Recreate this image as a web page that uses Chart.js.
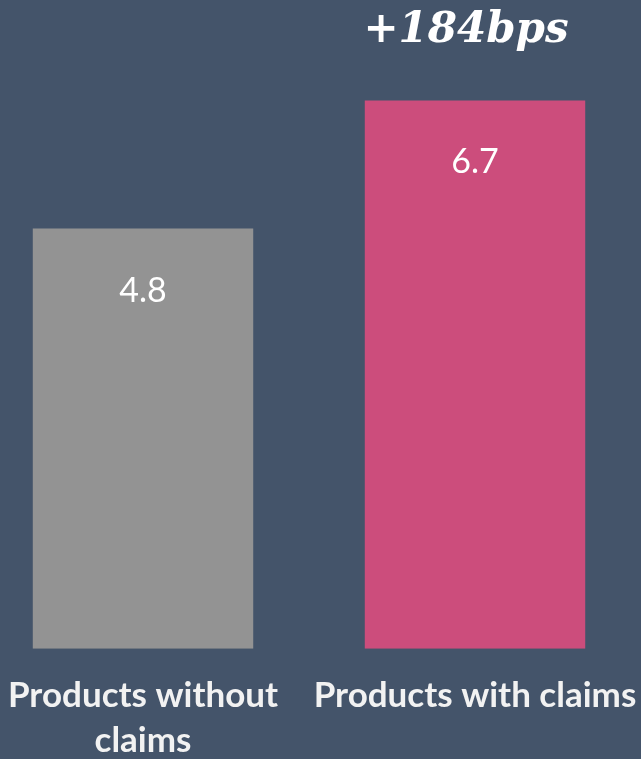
<!DOCTYPE html>
<html lang="en">

<head>
    <meta charset="UTF-8">
    <title>Claims chart</title>
    <script src="https://cdn.jsdelivr.net/npm/chart.js"></script>
    <style>
        html, body { margin: 0; padding: 0; background: #44546A; overflow: hidden; }
        #box { width: 641px; height: 759px; overflow: hidden; }
        /* o canvas sai um pouco pela esquerda e por baixo, como no original */
        #grafico { display: block; margin-left: -23px; }
    </style>
</head>

<body>
    <div id="box">
        <canvas id="grafico" width="664" height="787"></canvas>
    </div>

    <script>
        // categorias (eixo x)
        const categorias = [['Products without', 'claims'], 'Products with claims'];
        // valores das barras
        const valores = [4.8, 6.7];
        const textosValores = ['4.8', '6.7'];
        const cores = ['#939393', '#CC4D7C'];
        // anotacao em cima da barra rosa
        const anotacao = '+184bps';

        const escritaValores = {
            id: 'escritaValores',
            afterDatasetsDraw(chart) {
                const ctx = chart.ctx;
                const meta = chart.getDatasetMeta(0);
                ctx.save();
                ctx.fillStyle = '#FFFFFF';
                ctx.textAlign = 'center';
                ctx.textBaseline = 'middle';
                ctx.font = '34px Lato';
                meta.data.forEach(function (barra, i) {
                    ctx.fillText(textosValores[i], barra.x, barra.y + 62);
                });
                // +184bps em cima da segunda barra
                const b2 = meta.data[1];
                ctx.font = 'italic bold 42px "DejaVu Serif"';
                ctx.fillText(anotacao, b2.x - 9, 31);
                ctx.restore();
            }
        };

        new Chart(document.getElementById('grafico'), {
            type: 'bar',
            data: {
                labels: categorias,
                datasets: [{
                    data: valores,
                    backgroundColor: cores,
                    base: -1.43,
                    barPercentage: 1,
                    categoryPercentage: 0.664
                }]
            },
            options: {
                responsive: false,
                animation: false,
                layout: { padding: { left: 0, right: 0, top: 60, bottom: 0 } },
                plugins: {
                    legend: { display: false },
                    tooltip: { enabled: false }
                },
                scales: {
                    x: {
                        grid: { display: false, drawTicks: false },
                        border: { display: false },
                        ticks: {
                            color: '#F2F2F2',
                            font: { family: 'Lato', size: 35, weight: 'bold', lineHeight: 1.29 },
                            padding: 24,
                            maxRotation: 0,
                            autoSkip: false
                        },
                        // sem folga lateral para os rotulos
                        afterFit: function (scale) {
                            scale.paddingLeft = 0;
                            scale.paddingRight = 0;
                        }
                    },
                    y: {
                        display: false,
                        min: -1.43,
                        max: 7.3
                    }
                }
            },
            plugins: [escritaValores]
        });
    </script>
</body>

</html>
